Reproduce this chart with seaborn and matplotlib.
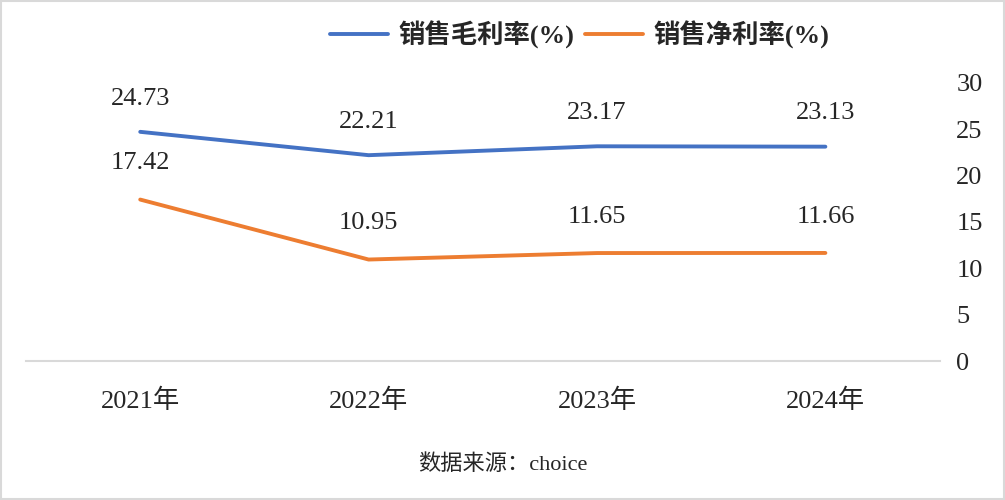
import matplotlib
matplotlib.use("Agg")
import matplotlib.pyplot as plt
import seaborn as sns
import pandas as pd

years = ["2021年", "2022年", "2023年", "2024年"]
gross_margin = [24.73, 22.21, 23.17, 23.13]
net_margin = [17.42, 10.95, 11.65, 11.66]
series_names = ["销售毛利率(%)", "销售净利率(%)"]
y_ticks = [0, 5, 10, 15, 20, 25, 30]
source_text = "数据来源：choice"

sns.set_theme(style="white")
plt.rcParams['font.family'] = ['Liberation Serif', 'Noto Sans CJK SC']
plt.rcParams['axes.unicode_minus'] = False

df = pd.DataFrame({
    "year": years * 2,
    "value": gross_margin + net_margin,
    "series": [series_names[0]] * 4 + [series_names[1]] * 4,
})

fig = plt.figure(figsize=(10.05, 5), dpi=100)
ax = fig.add_axes([0.0259, 0.278, 0.909, 0.556])
palette = {series_names[0]: "#4472C4", series_names[1]: "#ED7D31"}
sns.lineplot(data=df, x="year", y="value", hue="series", palette=palette,
             linewidth=2.8, sort=False, ax=ax, legend=True)

ax.set_xlim(-0.5, 3.5)
ax.set_ylim(0, 30)
ax.set_yticks(y_ticks)
ax.yaxis.tick_right()
ax.tick_params(axis="y", length=0, labelsize=19, pad=12)
ax.tick_params(axis="x", length=0, labelsize=19, pad=20)
ax.set_xlabel("")
ax.set_ylabel("")
for s in ["top", "left", "right"]:
    ax.spines[s].set_visible(False)
ax.spines["bottom"].set_color("#D9D9D9")
ax.spines["bottom"].set_linewidth(1.5)

for i, v in enumerate(gross_margin):
    ax.annotate(f"{v:.2f}", (i, v), xytext=(0, 24), textcoords="offset points",
                ha="center", va="center", fontsize=19)
for i, v in enumerate(net_margin):
    ax.annotate(f"{v:.2f}", (i, v), xytext=(0, 26), textcoords="offset points",
                ha="center", va="center", fontsize=19)

handles, labels = ax.get_legend_handles_labels()
ax.legend_.remove()
fig.legend(handles, labels, loc="center", bbox_to_anchor=(0.577, 0.93), ncol=2,
           frameon=False, prop={"size": 19, "weight": "bold"},
           handlelength=2.2, columnspacing=0.4, handletextpad=0.4)

fig.text(0.5, 0.07, source_text, ha="center", va="center", fontsize=16)

border = plt.Rectangle((0.001, 0.002), 0.998, 0.996, transform=fig.transFigure,
                       fill=False, edgecolor="#D9D9D9", linewidth=1.5)
fig.patches.append(border)

fig.savefig("out.png", dpi=100)
